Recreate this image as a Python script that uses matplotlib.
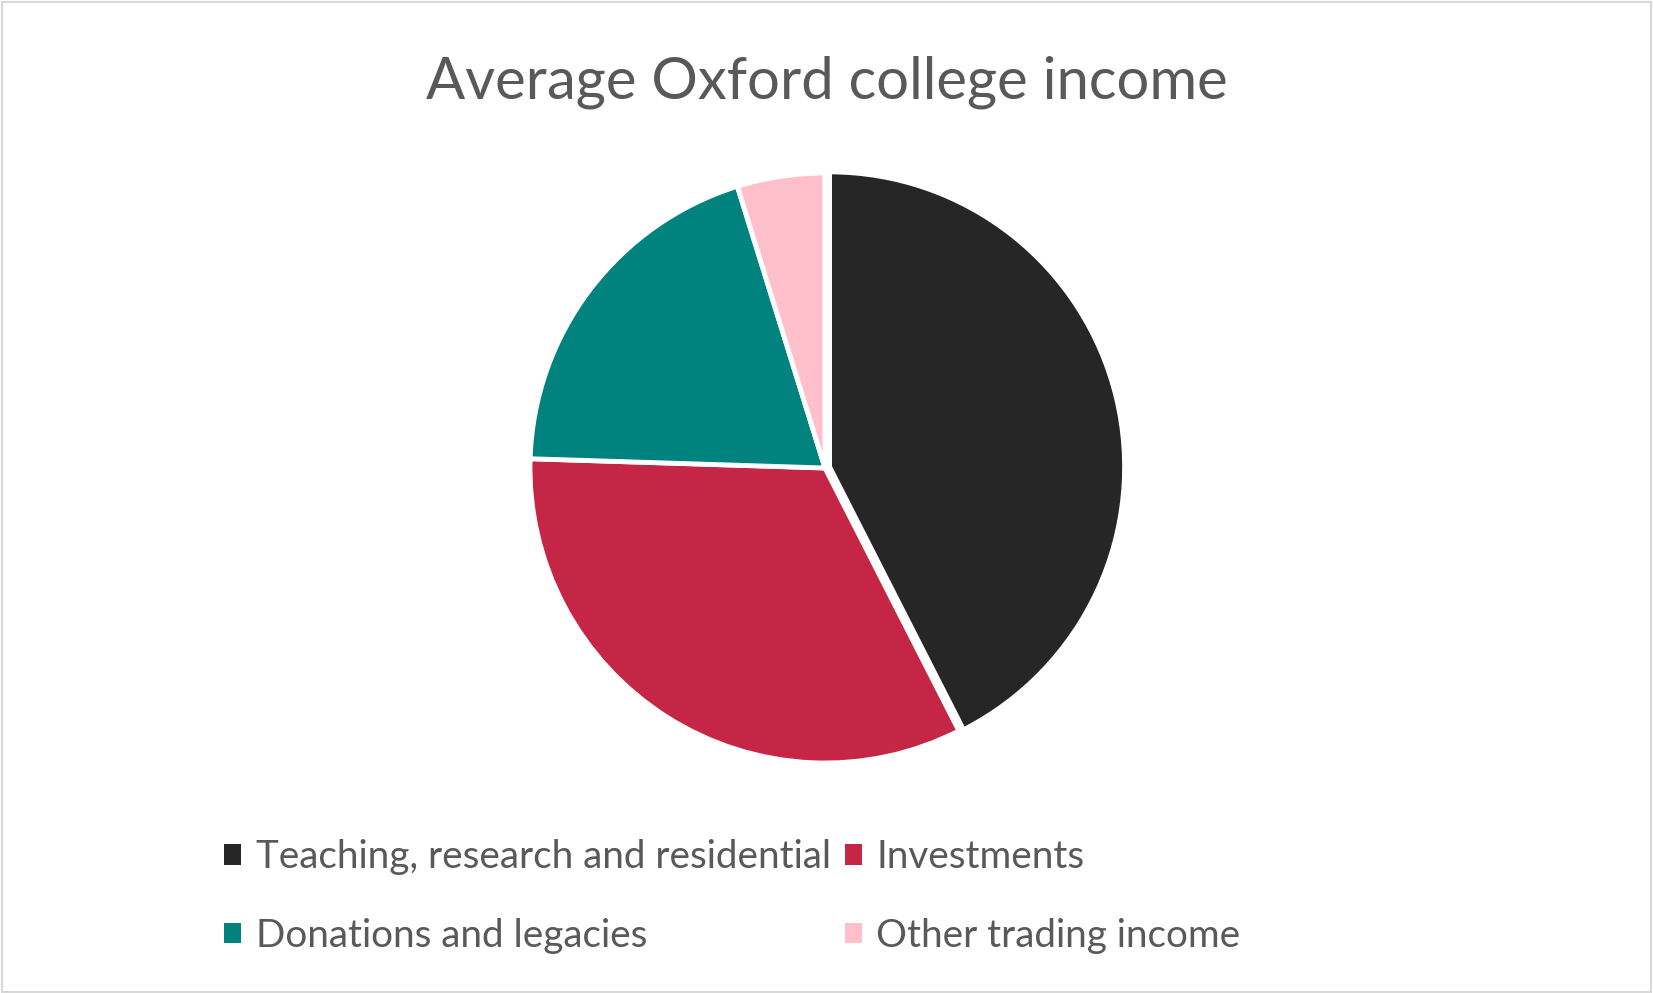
import matplotlib
matplotlib.use("Agg")
import matplotlib.pyplot as plt
from matplotlib.patches import Rectangle, Patch

# Income shares (percent)
categories = ["Teaching, research and residential", "Investments",
              "Donations and legacies", "Other trading income"]
shares = [42.5, 33.0, 19.7, 4.8]
colours = ["#262626", "#C52645", "#00827F", "#FFC0CB"]
title = "Average Oxford college income"

plt.rcParams['font.family'] = ['Lato', 'DejaVu Sans']
text_col = "#595959"

W, H = 1653, 993
fig = plt.figure(figsize=(W / 100, H / 100), dpi=100)
fig.patch.set_facecolor("white")

# light grey frame round the chart area
fig.patches.append(Rectangle((0.001, 0.001), 0.998, 0.997, transform=fig.transFigure,
                             fill=False, edgecolor="#D9D9D9", linewidth=1.5))

# pie axes: centre and radius in pixels
cx, cy, R = 825, 468, 295
k = 1.05
aw, ah = 2 * R * k / W, 2 * R * k / H
ax = fig.add_axes([cx / W - aw / 2, (H - cy) / H - ah / 2, aw, ah])
ax.pie(shares, colors=colours, startangle=90, counterclock=False,
       explode=[0.016, 0, 0, 0],
       wedgeprops=dict(edgecolor="white", linewidth=3.5))
ax.set_xlim(-k, k)
ax.set_ylim(-k, k)
ax.set_aspect("equal")
ax.axis("off")

fig.text(0.5, (H - 82) / H, title, ha="center", va="center",
         fontsize=41.8, color=text_col)

# legend laid out in rows: reorder for column-wise filling
handles = [Patch(facecolor=c, edgecolor="none") for c in colours]
order = [0, 2, 1, 3]
leg = fig.legend([handles[i] for i in order], [categories[i] for i in order],
                 ncol=2, loc="upper left", bbox_to_anchor=(209 / W, (H - 824) / H),
                 frameon=False, fontsize=27.8, labelcolor=text_col,
                 handlelength=0.44, handleheight=0.44, handletextpad=0.37,
                 columnspacing=0.36, labelspacing=1.09, borderaxespad=0)

fig.savefig("out.png", dpi=100, facecolor="white")
